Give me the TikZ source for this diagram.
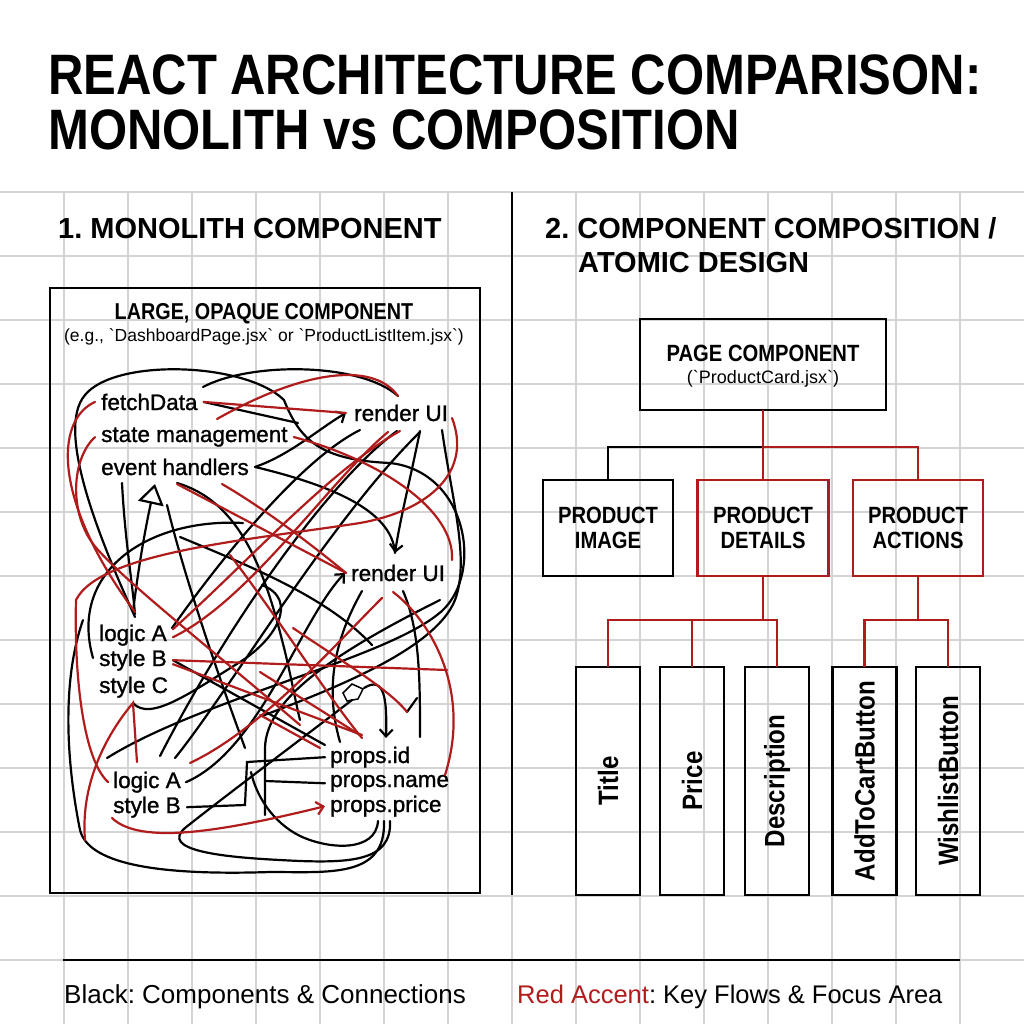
\documentclass[tikz,border=0pt]{standalone}
\usepackage{fontspec}
\usepackage{xcolor}
\usepackage{graphicx}
\usepackage{tikz}
\usetikzlibrary{arrows.meta}
\setmainfont{Liberation Sans}
\newfontfamily\condfont[FakeStretch=0.86]{Liberation Sans}
\newfontfamily\labfont[FakeBold=1.2]{Liberation Sans}
\definecolor{accent}{RGB}{176,28,28}
\definecolor{gridgray}{RGB}{212,212,212}
\frenchspacing

\begin{document}
\begin{tikzpicture}[x=1pt,y=-1pt,
  gridline/.style={draw=gridgray,line width=1.3pt},
  blk/.style={black,line width=2.2pt,line cap=round},
  rd/.style={accent,line width=2.2pt,line cap=round},
  barb/.style={-{Straight Barb[length=7pt,width=13pt]}},
  link/.style={line width=2.6pt,line cap=rect},
  lab/.style={anchor=base west,inner sep=0pt,font=\labfont\fontsize{22.5}{24}\selectfont},
  head/.style={anchor=base west,inner sep=0pt,font=\bfseries\fontsize{29}{32}\selectfont},
  comp/.style={draw,line width=2.8pt,inner sep=0pt,align=center,font=\condfont\bfseries\fontsize{23.5}{25}\selectfont},
  redcomp/.style={comp,draw=accent},
  leaf/.style={comp,minimum width=64,minimum height=228,font=\condfont\bfseries\fontsize{28}{30}\selectfont}]

  % paper and grid
  \fill[white] (0,0) rectangle (1024,1024);
  \useasboundingbox (0,0) rectangle (1024,1024);
  \foreach \gx in {64,128,...,1000}
    \draw[gridline] (\gx,192) -- (\gx,1024);
  \foreach \gy in {192,256,...,1000}
    \draw[gridline] (0,\gy) -- (1024,\gy);

  % title
  \node[anchor=base west,inner sep=0pt,font=\condfont\bfseries\fontsize{57}{60}\selectfont] (title1) at (48,95) {REACT ARCHITECTURE COMPARISON:};
  \node[anchor=base west,inner sep=0pt,font=\condfont\bfseries\fontsize{57}{60}\selectfont] (title2) at (48,150) {MONOLITH vs COMPOSITION};

  % headings and divider
  \node[head] (headL) at (58,238) {1. MONOLITH COMPONENT};
  \node[head] (headR) at (545,238) {2. COMPONENT COMPOSITION /};
  \node[head] (headR2) at (578,272) {ATOMIC DESIGN};
  \draw[line width=2pt] (512,192) -- (512,895);

  % monolith box
  \node[draw,line width=2.8pt,minimum width=430,minimum height=605,inner sep=0pt] (mono) at (265,590.5) {};
  \node[anchor=base,inner sep=0pt,font=\condfont\bfseries\fontsize{23}{25}\selectfont] (monoT) at (264,319) {LARGE, OPAQUE COMPONENT};
  \node[anchor=base,inner sep=0pt,font=\fontsize{17.5}{20}\selectfont] (monoS) at (264,341) {(e.g., \textasciigrave DashboardPage.jsx\textasciigrave\ or \textasciigrave ProductListItem.jsx\textasciigrave)};

  % labels inside the monolith
  \node[lab] (fetch) at (101,410) {fetchData};
  \node[lab] (state) at (101,442) {state management};
  \node[lab] (events) at (101,475) {event handlers};
  \node[lab] (renderA) at (354,421) {render UI};
  \node[lab] (renderB) at (351,581) {render UI};
  \node[lab] (logicA) at (99,641) {logic A};
  \node[lab] (styleB) at (99,666) {style B};
  \node[lab] (styleC) at (99,693) {style C};
  \node[lab] (logicA2) at (113,788) {logic A};
  \node[lab] (styleB2) at (113,813) {style B};
  \node[lab] (propsid) at (330,763) {props.id};
  \node[lab] (propsname) at (330,787) {props.name};
  \node[lab] (propsprice) at (330,812) {props.price};

  % black tangle
  \draw[blk] (135,617) .. controls (100,540) and (55,430) .. (85,395) .. controls (115,358) and (245,362) .. (284,400) .. controls (300,440) and (320,460) .. (390,463) .. controls (470,472) and (485,580) .. (437,615) .. controls (380,660) and (200,700) .. (107,758);
  \draw[blk] (203,387) .. controls (250,362) and (360,362) .. (398,396);
  \draw[blk] ([xshift=6pt]fetch.east) -- (298,423);
  \draw[blk,barb] ([xshift=6pt]events.east) .. controls (290,455) and (320,428) .. ([xshift=-8pt]renderA.west);
  \draw[blk] ([xshift=6pt]events.east) .. controls (330,485) and (392,510) .. (395,553);
  \draw[blk,barb] (420,431) .. controls (410,480) and (400,520) .. (395,553);
  \draw[blk] (442,430) .. controls (452,500) and (470,560) .. (455,600) .. controls (435,650) and (330,690) .. (262,716);
  \draw[blk] (397,431) .. controls (330,480) and (230,620) .. (160,756);
  \draw[blk] (360,430) .. controls (300,460) and (220,560) .. (172,628);
  \draw[blk] (122,483) .. controls (125,540) and (132,580) .. (135,614);
  \draw[blk,-{Triangle[open,length=20pt,width=26pt]}] (133,612) .. controls (138,570) and (145,530) .. (155,484);
  \draw[blk] (167,505) .. controls (185,580) and (220,680) .. (245,748);
  \draw[blk] (177,483) .. controls (235,500) and (262,560) .. (282,640) .. controls (290,670) and (295,700) .. (300,720);
  \draw[blk] (243,523) .. controls (150,518) and (68,570) .. (93,658);
  \draw[blk] ([xshift=6pt]styleB.east) -- (325,745);
  \draw[blk] (133,703) .. controls (150,722) and (190,693) .. (240,662) .. controls (275,640) and (300,600) .. (262,585);
  \draw[blk,barb] ([xshift=5pt]logicA2.east) .. controls (260,750) and (300,620) .. ([xshift=-6pt]renderB.west);
  \draw[blk] (175,758) .. controls (230,690) and (330,520) .. (420,432);
  \draw[blk] ([xshift=6pt]styleB2.east) -- (245,805) -- (247,762) -- ([xshift=-5pt]propsid.west);
  \draw[blk] (265,815) -- (265,748) .. controls (266,700) and (330,655) .. (440,600);
  \draw[blk] (265,781) -- ([xshift=-5pt]propsname.west);
  \draw[blk] (378,821) .. controls (376,852) and (330,850) .. (300,836) .. controls (272,822) and (256,795) .. (251,772);
  \draw[blk] (384,821) .. controls (386,878) and (330,872) .. (270,872) .. controls (150,876) and (88,862) .. (80,830) .. controls (66,760) and (62,680) .. (83,620);
  \draw[blk] (390,821) .. controls (392,862) and (350,864) .. (280,860) .. controls (220,857) and (160,850) .. (185,828) .. controls (220,800) and (300,740) .. (352,700);
  \draw[blk] (362,591) .. controls (340,630) and (322,680) .. (340,742);
  \draw[blk] (403,591) .. controls (420,630) and (420,680) .. (420,737);
  \draw[blk,barb] (364,688) .. controls (385,675) and (387,700) .. (386,738);
  \draw[blk,line width=1.5pt] (343,693) -- (352,684) -- (363,689) -- (358,699) -- (347,701) -- cycle;
  \draw[blk] (180,537) .. controls (260,570) and (330,600) .. (372,645);
  \draw[blk] (407,712) -- (417,698);

  % red tangle
  \draw[rd] ([xshift=6pt]fetch.east) -- ([xshift=-8pt]renderA.west);
  \draw[rd] (217,419) .. controls (300,372) and (372,360) .. (398,396);
  \draw[rd] ([xshift=-6pt]fetch.west) .. controls (55,420) and (52,500) .. (135,612);
  \draw[rd] ([xshift=-6pt]state.west) .. controls (70,460) and (68,520) .. (100,552) .. controls (130,585) and (200,640) .. (300,725);
  \draw[rd] (177,484) -- ([xshift=-5pt]renderB.west);
  \draw[rd] (222,484) .. controls (270,512) and (318,550) .. ([xshift=-5pt]renderB.west);
  \draw[rd] ([xshift=6pt]state.east) .. controls (380,460) and (455,510) .. (452,560);
  \draw[rd] (452,418) .. controls (472,470) and (432,510) .. (360,523) .. controls (250,540) and (100,552) .. (76,600) .. controls (74,680) and (84,760) .. (108,782);
  \draw[rd] ([xshift=6pt,yshift=6pt]logicA.east) .. controls (250,560) and (330,470) .. (400,431);
  \draw[rd] ([xshift=6pt,yshift=-2pt]logicA.east) .. controls (250,600) and (330,480) .. (388,432);
  \draw[rd] ([xshift=6pt]styleB.east) -- (447,670);
  \draw[rd] ([xshift=6pt,yshift=-4pt]styleB.east) -- (362,735);
  \draw[rd] (393,592) .. controls (430,620) and (472,690) .. (445,775);
  \draw[rd] (190,763) .. controls (260,730) and (330,650) .. (382,598);
  \draw[rd,barb] (112,818) .. controls (140,845) and (220,832) .. ([xshift=-5pt]propsprice.west);
  \draw[rd] (137,762) -- (133,703) .. controls (110,730) and (80,780) .. (85,840);
  \draw[rd] (260,672) -- (360,735);
  \draw[rd] (293,628) .. controls (340,660) and (390,690) .. (407,712);
  \draw[rd] (230,555) .. controls (280,620) and (330,700) .. (362,738);
  \draw[rd] (260,715) -- (320,748);

  % composition tree
  \node[comp,minimum width=246,minimum height=91] (page) at (763,364.5) {};
  \node[anchor=base,inner sep=0pt,font=\condfont\bfseries\fontsize{23.5}{25}\selectfont] (pageT) at (763,361) {PAGE COMPONENT};
  \node[anchor=base,inner sep=0pt,font=\fontsize{18}{20}\selectfont] (pageS) at (763,383) {(\textasciigrave ProductCard.jsx\textasciigrave)};
  \node[comp,minimum width=130,minimum height=96] (img) at (608,528) {PRODUCT\\IMAGE};
  \node[redcomp,minimum width=131,minimum height=96] (details) at (763,528) {PRODUCT\\DETAILS};
  \node[redcomp,minimum width=130,minimum height=96] (actions) at (918,528) {PRODUCT\\ACTIONS};
  \node[leaf] (ttl) at (608,781) {\rotatebox{90}{Title}};
  \node[leaf] (price) at (692,781) {\rotatebox{90}{Price}};
  \node[leaf] (desc) at (777,781) {\rotatebox{90}{Description}};
  \node[leaf] (cart) at (864.5,781) {\rotatebox{90}{AddToCartButton}};
  \node[leaf] (wish) at (948,781) {\rotatebox{90}{WishlistButton}};

  \coordinate (hub) at (763,447);
  \coordinate (hubD) at (763,620);
  \coordinate (hubA) at (918,620);
  \draw[link] (hub) -| (img.north);
  \draw[link,accent] (page.south) -- (hub);
  \draw[link,accent] (hub) -- (details.north);
  \draw[link,accent] (hub) -| (actions.north);
  \draw[link,accent] (details.south) -- (hubD);
  \draw[link,accent] (hubD) -| (ttl.north);
  \draw[link,accent] (hubD) -| (price.north);
  \draw[link,accent] (hubD) -| (desc.north);
  \draw[link,accent] (actions.south) -- (hubA);
  \draw[link,accent] (hubA) -| (cart.north);
  \draw[link,accent] (hubA) -| (wish.north);

  % key
  \draw[line width=2pt] (63,960) -- (960,960);
  \node[anchor=base west,inner sep=0pt,font=\fontsize{26}{28}\selectfont] (keyB) at (64,1003) {Black: Components \& Connections};
  \node[anchor=base west,inner sep=0pt,font=\fontsize{25.5}{28}\selectfont] (keyR) at (517,1003) {\textcolor{accent}{Red Accent}: Key Flows \& Focus Area};
\end{tikzpicture}
\end{document}
